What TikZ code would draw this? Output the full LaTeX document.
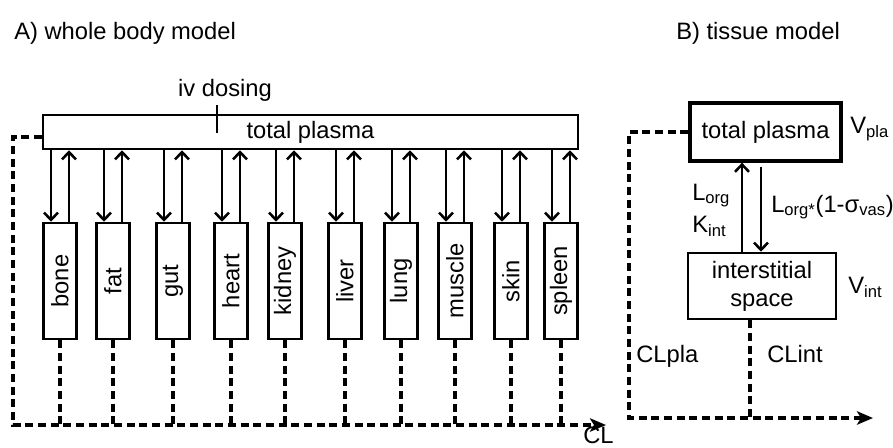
\documentclass[tikz,border=0pt]{standalone}
\usepackage{fontspec}
\setmainfont{Liberation Sans}
\usepackage{tikz}
\usetikzlibrary{positioning,arrows.meta,calc}
\tikzset{
  organ/.style={rectangle,draw,line width=1.9pt,rotate=90,
                minimum width=87pt,minimum height=24.5pt,inner sep=0pt},
  pool/.style={rectangle,draw,line width=1.9pt,inner sep=0pt},
  flow/.style={-{Straight Barb[length=5.5pt,width=10.5pt]},line width=1.9pt},
  clear/.style={line width=2.4pt,dash pattern=on 6pt off 3.5pt},
  clarrow/.style={clear,-{Stealth[length=12pt,width=10pt,inset=3pt]}},
  lbl/.style={inner sep=0pt},
}

\begin{document}
\begin{tikzpicture}[x=0.75pt,y=-0.75pt,font=\fontsize{17.8}{21}\selectfont]
\useasboundingbox (0,0) rectangle (893,447);
% A) whole body model
\node[lbl,anchor=base west] (titleA) at (14,39) {A) whole body model};
\node[pool,minimum width=401pt,minimum height=25.5pt] (plasmaA) at (310.5,132)
      {total plasma};
\node[lbl,anchor=base] (iv) at (225,96) {iv dosing};
\coordinate (ivin) at (217,133);
\draw[line width=1.9pt] (ivin) -- ([yshift=-3pt]ivin |- iv.south);
\coordinate (clA) at (606,425);
\coordinate (cornerA) at (13,425);
\foreach \x/\o in {60/bone,113/fat,173/gut,231/heart,285/kidney,
                   345/liver,401/lung,455/muscle,511/skin,561/spleen}{
  \node[organ] (\o) at (\x,281) {\o};
  \draw[flow] ([xshift=-6.75pt]\o.east |- plasmaA.south) -- ([xshift=-6.75pt]\o.east);
  \draw[flow] ([xshift=6.75pt]\o.east) -- ([xshift=6.75pt]\o.east |- plasmaA.south);
  \draw[clear] (\o.west) -- (\o.west |- clA);
}
\draw[clarrow] ([yshift=-3.75pt]plasmaA.west) -| (cornerA) -- (clA);
\node[lbl,anchor=base west] (cl) at (583,443) {CL};

% B) tissue model
\node[lbl,anchor=base west] (titleB) at (676,39) {B) tissue model};
\node[pool,line width=3pt,minimum width=113pt,minimum height=43pt] (plasmaB)
      at (765.5,132) {total plasma};
\node[pool,minimum width=111pt,minimum height=49.5pt,align=center] (intB)
      at (762,286) {interstitial\\space};
\node[lbl,anchor=base west] (vpla) at (850,133) {V\textsubscript{pla}};
\node[lbl,anchor=base west] (vint) at (848,293) {V\textsubscript{int}};
\draw[flow] ([xshift=-15pt]intB.north) -- ([xshift=-15pt]intB.north |- plasmaB.south);
\draw[flow] ([xshift=-0.75pt,yshift=-3pt]intB.north |- plasmaB.south)
      -- ([xshift=-0.75pt]intB.north);
\node[lbl,anchor=base west] (lorg) at (692,200) {L\textsubscript{org}};
\node[lbl,anchor=base west] (kint) at (692,232) {K\textsubscript{int}};
\node[lbl,anchor=base west] (lrefl) at (771,212)
      {L\textsubscript{org*}(1-σ\textsubscript{vas})};
\coordinate (clB) at (873,418);
\coordinate (cornerB) at (629,418);
\draw[clarrow] (plasmaB.west) -| (cornerB) -- (clB);
\draw[clear] ([xshift=-9pt]intB.south) -- ([xshift=-9pt]intB.south |- clB);
\node[lbl,anchor=base west] (clpla) at (636,362) {CLpla};
\node[lbl,anchor=base west] (clint) at (767,362) {CLint};
\end{tikzpicture}
\end{document}
